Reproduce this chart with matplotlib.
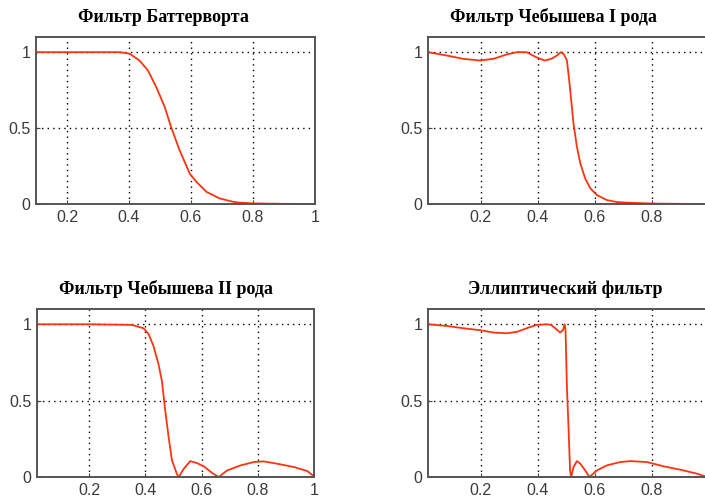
import matplotlib
matplotlib.use('Agg')
import matplotlib.pyplot as plt

# Фильтр Баттерворта
butter_x = [0.1, 0.2, 0.3, 0.37, 0.402, 0.434, 0.461, 0.488, 0.515, 0.537, 0.563,
            0.596, 0.617, 0.65, 0.692, 0.735, 0.757, 0.8, 0.9, 1.0]
butter_y = [1.0, 1.0, 1.0, 1.0, 0.99, 0.945, 0.88, 0.77, 0.64, 0.5, 0.355,
            0.2, 0.147, 0.08, 0.037, 0.015, 0.009, 0.004, 0.001, 0.0]

# Фильтр Чебышева I рода
cheb1_x = [0.015, 0.081, 0.139, 0.198, 0.244, 0.291, 0.326, 0.361, 0.394, 0.424,
           0.447, 0.467, 0.481, 0.492, 0.502, 0.51, 0.517, 0.525, 0.537, 0.549,
           0.566, 0.584, 0.607, 0.642, 0.677, 0.712, 0.8, 0.9, 1.0]
cheb1_y = [1.0, 0.978, 0.956, 0.945, 0.956, 0.985, 1.0, 1.0, 0.967, 0.945,
           0.956, 0.978, 1.0, 0.985, 0.945, 0.814, 0.683, 0.53, 0.376, 0.267,
           0.168, 0.103, 0.059, 0.026, 0.013, 0.009, 0.003, 0.001, 0.0]

# Фильтр Чебышева II рода
cheb2_x = [0.015, 0.2, 0.352, 0.376, 0.394, 0.412, 0.429, 0.447, 0.459, 0.471,
           0.483, 0.495, 0.513, 0.519, 0.537, 0.56, 0.584, 0.608, 0.638, 0.661,
           0.691, 0.739, 0.786, 0.822, 0.869, 0.929, 0.976, 1.0]
cheb2_y = [1.0, 1.0, 0.996, 0.983, 0.974, 0.935, 0.859, 0.739, 0.63, 0.435,
           0.261, 0.109, 0.017, 0.0, 0.054, 0.104, 0.091, 0.07, 0.026, 0.0,
           0.043, 0.076, 0.098, 0.102, 0.087, 0.065, 0.039, 0.004]

# Эллиптический фильтр
ellip_x = [0.015, 0.081, 0.139, 0.198, 0.244, 0.291, 0.326, 0.361, 0.396, 0.432,
           0.446, 0.461, 0.478, 0.488, 0.494, 0.497, 0.502, 0.508, 0.513, 0.517,
           0.525, 0.537, 0.549, 0.566, 0.581, 0.607, 0.642, 0.689, 0.724, 0.782,
           0.841, 0.899, 0.958, 0.987, 1.0]
ellip_y = [1.0, 0.989, 0.974, 0.961, 0.946, 0.941, 0.95, 0.974, 0.996, 1.0,
           0.996, 0.974, 0.946, 0.961, 1.0, 0.965, 0.587, 0.304, 0.043, 0.0,
           0.065, 0.104, 0.087, 0.043, 0.0, 0.043, 0.076, 0.098, 0.104, 0.098,
           0.07, 0.048, 0.022, 0.004, 0.0]

titles = ['Фильтр Баттерворта', 'Фильтр Чебышева I рода',
          'Фильтр Чебышева II рода', 'Эллиптический фильтр']
xticks = [0.2, 0.4, 0.6, 0.8, 1.0]
xticklabels = ['0.2', '0.4', '0.6', '0.8', '1']
yticks = [0, 0.5, 1]
yticklabels = ['0', '0.5', '1']

W, H = 705, 499
fig = plt.figure(figsize=(W / 100, H / 100), dpi=100)

# axes boxes in pixels: left, right, top, bottom
boxes = [(36, 315, 37, 204), (428, 709, 37, 204),
         (37, 314, 309, 477), (428, 709, 309, 477)]
xlims = [(0.1, 1.0), (0.015, 1.0), (0.015, 1.0), (0.015, 1.0)]
title_x = [0.455, 0.445, 0.465, 0.49]
data = [(butter_x, butter_y), (cheb1_x, cheb1_y),
        (cheb2_x, cheb2_y), (ellip_x, ellip_y)]

for i in range(4):
    l, r, t, b = boxes[i]
    ax = fig.add_axes([l / W, (H - b) / H, (r - l) / W, (b - t) / H])
    x, y = data[i]
    ax.plot(x, y, color='#ff3311', lw=1.3)
    ax.set_xlim(*xlims[i])
    ax.set_ylim(0, 1.1)
    ax.set_xticks(xticks)
    ax.set_xticklabels(xticklabels)
    ax.set_yticks(yticks)
    ax.set_yticklabels(yticklabels)
    ax.grid(True, color='black', linestyle=(0, (1, 3)), lw=1.0)
    ax.tick_params(direction='in', length=3, labelsize=11.5, colors='#444444',
                   labelcolor='#3a3a3a', pad=4)
    for s in ax.spines.values():
        s.set_color('#555555')
        s.set_linewidth(1.4)
    ax.set_title(titles[i], x=title_x[i], pad=11, fontsize=13,
                 fontweight='bold', family='Liberation Serif')
    for lab in ax.get_xticklabels() + ax.get_yticklabels():
        lab.set_family('Liberation Sans')

fig.savefig('out.png', dpi=100)
